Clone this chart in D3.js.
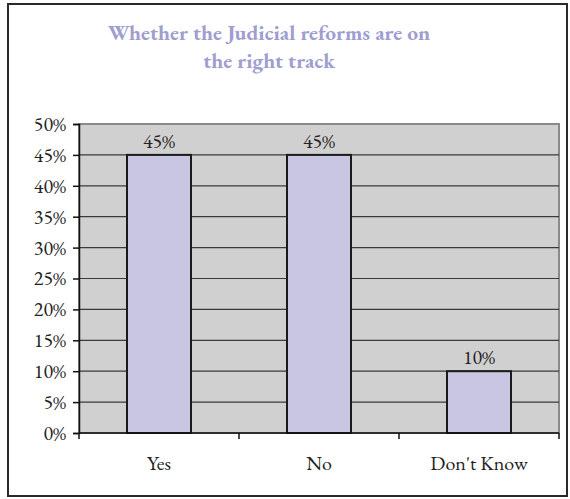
<!DOCTYPE html>
<html>
<head>
<meta charset="utf-8">
<script src="https://cdn.jsdelivr.net/npm/d3@7"></script>
<style>
  html, body { margin: 0; padding: 0; background: #fff; }
  svg { display: block; }
  text { font-family: "EB Garamond", Garamond, "Liberation Serif", "DejaVu Serif", serif; }
</style>
</head>
<body>
<svg id="chart" width="570" height="499"></svg>
<script>
// Survey answers and their shares (percent)
const categories = ["Yes", "No", "Don't Know"];
const values = [45, 45, 10];
const yTicks = [0, 5, 10, 15, 20, 25, 30, 35, 40, 45, 50];
const titleLines = ["Whether the Judicial reforms are on", "the right track"];

const svg = d3.select("#chart");
const FONT = 20;

// Outer frame
svg.append("rect")
  .attr("x", 8).attr("y", 4).attr("width", 559).attr("height", 492)
  .attr("fill", "#fff").attr("stroke", "#2a2a2a").attr("stroke-width", 2);

// Plot region
const plot = { left: 79, right: 559, top: 124, bottom: 433 };

const x = d3.scaleBand()
  .domain(categories)
  .range([plot.left, plot.right])
  .paddingInner(0.6).paddingOuter(0.3);

const y = d3.scaleLinear()
  .domain([0, 50])
  .range([plot.bottom, plot.top]);

// Gray plot background
svg.append("rect")
  .attr("x", plot.left).attr("y", plot.top)
  .attr("width", plot.right - plot.left).attr("height", plot.bottom - plot.top)
  .attr("fill", "#d0d0d0")
  .attr("stroke", "#8a8a8a").attr("stroke-width", 2);

// Horizontal gridlines
svg.append("g").selectAll("line")
  .data(yTicks.filter(d => d > 0 && d < 50))
  .join("line")
  .attr("x1", plot.left).attr("x2", plot.right)
  .attr("y1", d => y(d)).attr("y2", d => y(d))
  .attr("stroke", "#3a3a3a").attr("stroke-width", 1.2);

// Bars
svg.append("g").selectAll("rect")
  .data(values)
  .join("rect")
  .attr("x", (d, i) => x(categories[i]))
  .attr("y", d => y(d))
  .attr("width", x.bandwidth())
  .attr("height", d => y(0) - y(d))
  .attr("fill", "#c8c6e2")
  .attr("stroke", "#1a1a1a").attr("stroke-width", 2);

// Value labels
svg.append("g").selectAll("text")
  .data(values)
  .join("text")
  .attr("x", (d, i) => x(categories[i]) + x.bandwidth() / 2)
  .attr("y", d => y(d) - 7)
  .attr("text-anchor", "middle")
  .attr("font-size", FONT)
  .attr("fill", "#222")
  .text(d => d + "%");

// Y axis
const yAxis = d3.axisLeft(y)
  .tickValues(yTicks)
  .tickFormat(d => d + "%")
  .tickSize(6)
  .tickPadding(7);
const gy = svg.append("g")
  .attr("transform", `translate(${plot.left},0)`)
  .call(yAxis);
gy.select(".domain").attr("stroke", "#111").attr("stroke-width", 1.5);
gy.selectAll(".tick line").attr("stroke", "#111").attr("stroke-width", 1.5);
gy.selectAll(".tick text")
  .attr("font-size", FONT)
  .attr("font-family", null)
  .attr("fill", "#222");

// X axis: boundary ticks between categories, labels centred under bars
const step = (plot.right - plot.left) / categories.length;
const xBoundaries = d3.range(categories.length + 1).map(i => plot.left + i * step);
svg.append("line")
  .attr("x1", plot.left).attr("x2", plot.right)
  .attr("y1", plot.bottom).attr("y2", plot.bottom)
  .attr("stroke", "#111").attr("stroke-width", 1.5);
svg.append("g").selectAll("line")
  .data(xBoundaries)
  .join("line")
  .attr("x1", d => d).attr("x2", d => d)
  .attr("y1", plot.bottom).attr("y2", plot.bottom + 6)
  .attr("stroke", "#111").attr("stroke-width", 1.5);
svg.append("g").selectAll("text")
  .data(categories)
  .join("text")
  .attr("x", d => x(d) + x.bandwidth() / 2)
  .attr("y", plot.bottom + 37)
  .attr("text-anchor", "middle")
  .attr("font-size", FONT)
  .attr("fill", "#222")
  .text(d => d);

// Title, two centred lines
svg.append("g").selectAll("text")
  .data(titleLines)
  .join("text")
  .attr("x", 269)
  .attr("y", (d, i) => 40 + i * 28)
  .attr("text-anchor", "middle")
  .attr("font-size", 21.5)
  .attr("font-weight", "bold")
  .attr("fill", "#a09dd0")
  .text(d => d);
</script>
</body>
</html>
